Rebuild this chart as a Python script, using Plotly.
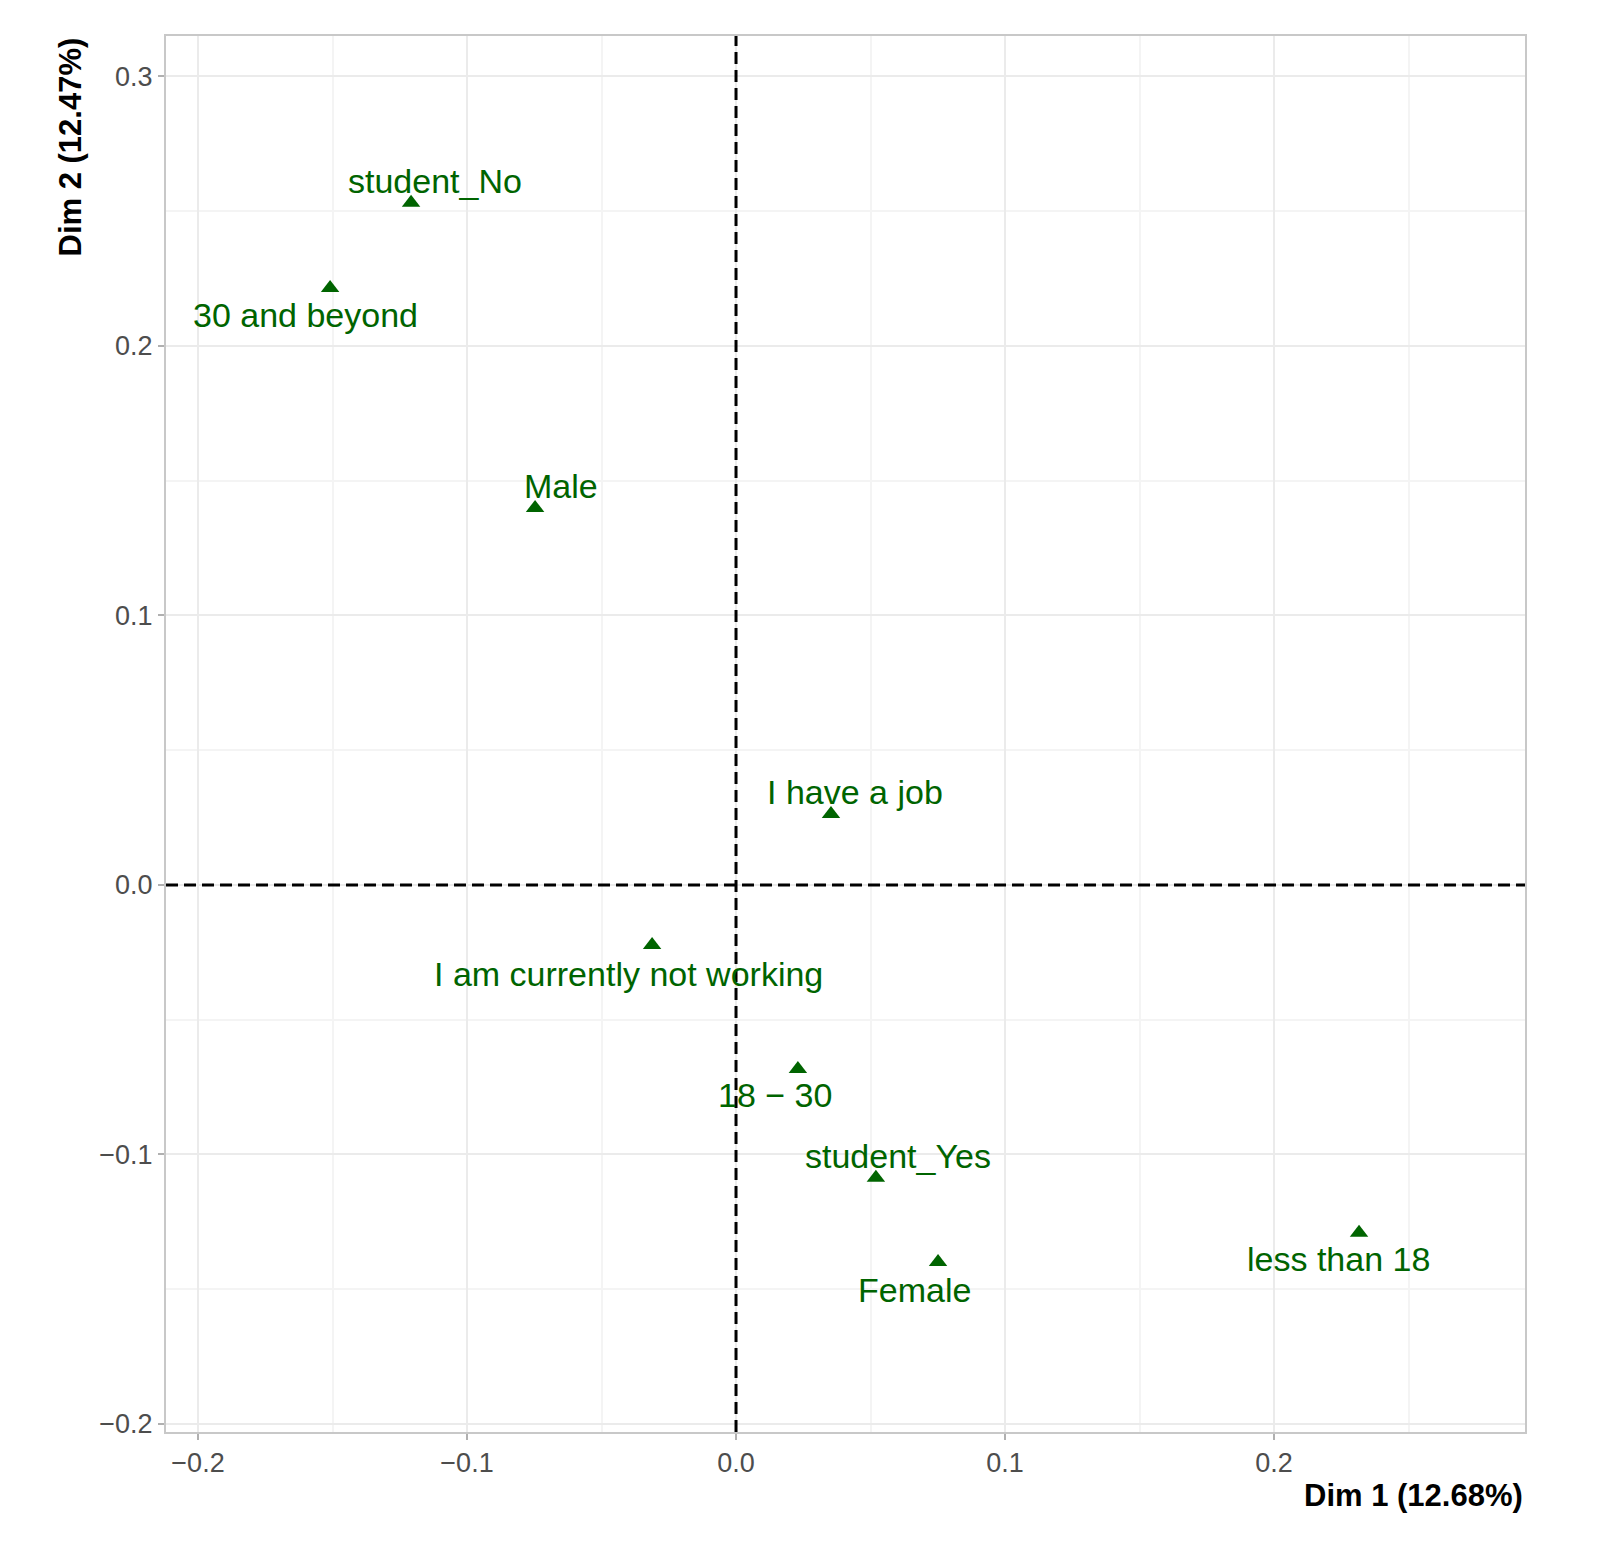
import plotly.graph_objects as go

# MCA category coordinates (Dim 1, Dim 2)
categories = ["student_No", "30 and beyond", "Male", "I have a job",
              "I am currently not working", "18 \u2212 30", "student_Yes",
              "Female", "less than 18"]
dim1 = [-0.1208, -0.1509, -0.0747, 0.0353, -0.0312, 0.0230, 0.0520, 0.0751, 0.2316]
dim2 = [0.2531, 0.2215, 0.1399, 0.0263, -0.0223, -0.0683, -0.1087, -0.1399, -0.1291]

# label nudges (pixels) like ggrepel put them
lab_dx = [24, -25, 26, 24, -24, -23, 22, -24, -21]
lab_dy = [22, -27, 22, 22, -29, -26, 22, -28, -26]

tick_vals = [-0.2, -0.1, 0.0, 0.1, 0.2, 0.3]
tick_text = ["\u22120.2", "\u22120.1", "0.0", "0.1", "0.2", "0.3"]

green = "#006400"
font = "Liberation Sans, Arial, sans-serif"

fig = go.Figure()
fig.add_trace(go.Scatter(
    x=dim1, y=dim2, mode="markers",
    marker=dict(symbol="triangle-up", size=16, color=green),
    hoverinfo="text", hovertext=categories, showlegend=False))

for lab, x, y, dx, dy in zip(categories, dim1, dim2, lab_dx, lab_dy):
    fig.add_annotation(x=x, y=y, text=lab, showarrow=False,
                       xshift=dx, yshift=dy,
                       font=dict(family=font, size=34, color=green))

fig.add_hline(y=0, line=dict(color="black", width=3, dash="12px,6px"))
fig.add_vline(x=0, line=dict(color="black", width=3, dash="12px,6px"))

axis_common = dict(
    tickvals=tick_vals, ticktext=tick_text,
    showgrid=True, gridcolor="#EBEBEB", gridwidth=2,
    minor=dict(dtick=0.05, showgrid=True, gridcolor="#F4F4F4", gridwidth=1.5),
    zeroline=False, ticks="outside", ticklen=6, tickwidth=1.5, tickcolor="#B0B0B0",
    tickfont=dict(family=font, size=27, color="#4D4D4D"),
    showline=True, linecolor="#C8C8C8", linewidth=2, mirror=True,
)

fig.update_xaxes(range=[-0.2119, 0.2933], **axis_common)
fig.update_yaxes(range=[-0.203, 0.315], **axis_common)

fig.add_annotation(xref="paper", yref="paper", x=1, y=0, yshift=-63,
                   xanchor="right", yanchor="middle", showarrow=False,
                   text="<b>Dim 1 (12.68%)</b>",
                   font=dict(family=font, size=31, color="black"))
fig.add_annotation(xref="paper", yref="paper", x=0, y=1, xshift=-96,
                   xanchor="center", yanchor="top", showarrow=False, textangle=-90,
                   text="<b>Dim 2 (12.47%)</b>",
                   font=dict(family=font, size=31, color="black"))

fig.update_layout(
    width=1599, height=1565,
    margin=dict(l=158, r=82, t=28, b=141),
    plot_bgcolor="white", paper_bgcolor="white",
)

fig.write_html("out.html")
